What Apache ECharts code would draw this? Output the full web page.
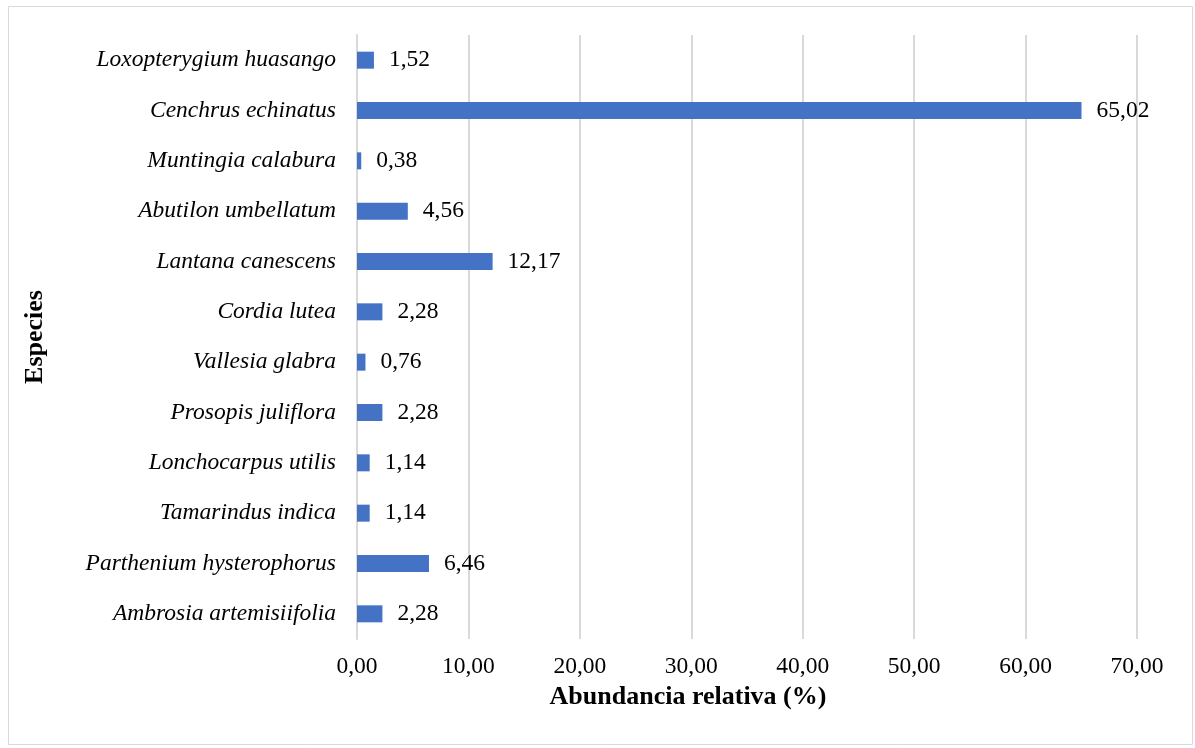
<!DOCTYPE html>
<html>
<head>
<meta charset="utf-8">
<script src="https://cdn.jsdelivr.net/npm/echarts@6/dist/echarts.min.js"></script>
<style>
html, body { margin: 0; padding: 0; background: #fff; }
#chart { width: 1195px; height: 748px; }
</style>
</head>
<body>
<div id="chart"></div>
<script>
// species, top to bottom as in the picture
var especies = ['Loxopterygium huasango', 'Cenchrus echinatus', 'Muntingia calabura',
    'Abutilon umbellatum', 'Lantana canescens', 'Cordia lutea', 'Vallesia glabra',
    'Prosopis juliflora', 'Lonchocarpus utilis', 'Tamarindus indica',
    'Parthenium hysterophorus', 'Ambrosia artemisiifolia'];
var abundancia = [1.52, 65.02, 0.38, 4.56, 12.17, 2.28, 0.76, 2.28, 1.14, 1.14, 6.46, 2.28];
var ticks = [0, 10, 20, 30, 40, 50, 60, 70];

var fmt = function (v) {
    return Number(v).toFixed(2).replace('.', ',');
};

var chart = echarts.init(document.getElementById('chart'));

var opt = {
    animation: false,
    textStyle: { fontFamily: 'Liberation Serif' },
    grid: {
        left: 357,
        right: 58,
        top: 35,
        bottom: 109
    },
    xAxis: {
        type: 'value',
        min: ticks[0],
        max: ticks[ticks.length - 1],
        interval: 10,
        axisLine: { show: false },
        axisTick: { show: false },
        splitLine: { lineStyle: { color: '#d9d9d9', width: 2 } },
        axisLabel: {
            color: '#000',
            fontSize: 23.5,
            fontFamily: 'Liberation Serif',
            margin: 16,
            formatter: fmt
        }
    },
    yAxis: {
        type: 'category',
        inverse: true,
        data: especies,
        axisLine: { show: true, lineStyle: { color: '#d9d9d9', width: 2 } },
        axisTick: { show: false },
        axisLabel: {
            color: '#000',
            fontSize: 23.5,
            fontStyle: 'italic',
            fontFamily: 'Liberation Serif',
            margin: 21
        }
    },
    series: [{
        type: 'bar',
        data: abundancia,
        barWidth: 17,
        itemStyle: { color: '#4472c4' },
        label: {
            show: true,
            position: 'right',
            distance: 15,
            color: '#000',
            fontSize: 23.5,
            fontFamily: 'Liberation Serif',
            formatter: function (p) { return fmt(p.value); }
        }
    }],
    graphic: [
        {
            type: 'rect',
            shape: { x: 8.5, y: 6.5, width: 1184, height: 738 },
            style: { fill: 'none', stroke: '#d9d9d9', lineWidth: 1 },
            silent: true
        },
        {
            type: 'text',
            x: 688,
            y: 697,
            style: {
                text: 'Abundancia relativa (%)',
                font: 'bold 26px "Liberation Serif"',
                fill: '#000',
                align: 'center',
                verticalAlign: 'middle'
            }
        },
        {
            type: 'text',
            x: 35,
            y: 337,
            rotation: Math.PI / 2,
            style: {
                text: 'Especies',
                font: 'bold 26px "Liberation Serif"',
                fill: '#000',
                align: 'center',
                verticalAlign: 'middle'
            }
        }
    ]
};

chart.setOption(opt);

window.addEventListener('resize', function () {
    chart.resize();
});
</script>
</body>
</html>
